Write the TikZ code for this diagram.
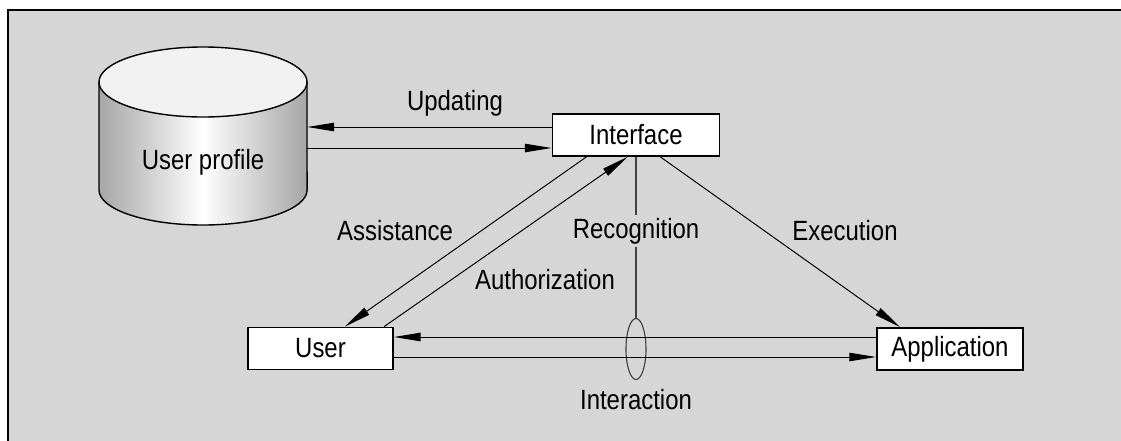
\documentclass[tikz,border=0pt]{standalone}
\usepackage{fontspec}
\setmainfont{Liberation Sans}[FakeStretch=0.86]
\usetikzlibrary{arrows.meta,shapes.geometric}
\definecolor{bg}{HTML}{D6D6D6}
\definecolor{cylside}{HTML}{A6A6A6}
\definecolor{cyltop}{HTML}{F2F2F2}
\begin{document}
\begin{tikzpicture}[x=0.025cm,y=-0.025cm,
  font=\fontsize{19.8}{22}\selectfont,
  box/.style={draw, line width=1.3pt, fill=white, minimum height=1.05cm, inner sep=0pt},
  arr/.style={line width=0.7pt, -{Triangle[length=19pt,width=6pt]}},
  lbl/.style={inner sep=1pt},
  thinline/.style={line width=0.8pt, draw=black!75}
]
\clip (0,0) rectangle (1121,441);
\fill[white] (0,0) rectangle (1121,441);
\draw[fill=bg, line width=1.3pt] (8,10) rectangle (1140,460);
% cylinder
\path[draw, line width=1pt, left color=cylside, right color=cylside, middle color=white]
  (99,82) -- (99,190) arc[start angle=180, end angle=360, x radius=2.6cm, y radius=0.875cm] -- (307,82) -- cycle;
\draw[fill=cyltop, line width=1pt] (203,82) ellipse [x radius=2.6cm, y radius=0.875cm];
\node[minimum width=5.2cm, inner sep=0pt] (profile) at (203,162) {User profile};
% boxes
\node[box, minimum width=4.175cm] (iface) at (636,135) {Interface};
\node[box, minimum width=3.625cm] (user) at (320.5,348.5) {User};
\node[box, minimum width=3.65cm] (app) at (950,349) {Application};
\node[ellipse, thinline, minimum width=0.5cm, minimum height=1.525cm, inner sep=0pt] (inter) at (636,349) {};
% labels
\node[lbl] (upd) at (455,103) {Updating};
\node[lbl] (assist) at (395,231) {Assistance};
\node[lbl] (auth) at (545,280) {Authorization};
\node[lbl] (exec) at (845,231) {Execution};
\node[lbl] (interlbl) at (636,400) {Interaction};
\node[fill=bg, inner sep=2pt] (rec) at (636,231) {Recognition};
% connectors
\draw[arr] ([yshift=0.2cm]iface.west) -- ([yshift=0.2cm]iface.west -| profile.east);
\draw[arr] ([yshift=-0.325cm]iface.west -| profile.east) -- ([yshift=-0.325cm]iface.west);
\draw[arr] ([xshift=-1.24cm]iface.south) -- ([xshift=0.61cm]user.north);
\draw[arr] ([xshift=1.59cm]user.north) -- ([xshift=-0.21cm]iface.south);
\draw[arr] ([xshift=0.61cm]iface.south) -- ([xshift=-1.25cm]app.north);
\draw[arr] ([yshift=0.3cm]app.west) -- ([yshift=0.3cm]app.west -| user.east);
\draw[arr] ([yshift=-0.2cm]app.west -| user.east) -- ([yshift=-0.2cm]app.west);
\draw[thinline] (iface.south) -- (rec.north);
\draw[thinline] (rec.south) -- (inter.north);
\end{tikzpicture}
\end{document}
